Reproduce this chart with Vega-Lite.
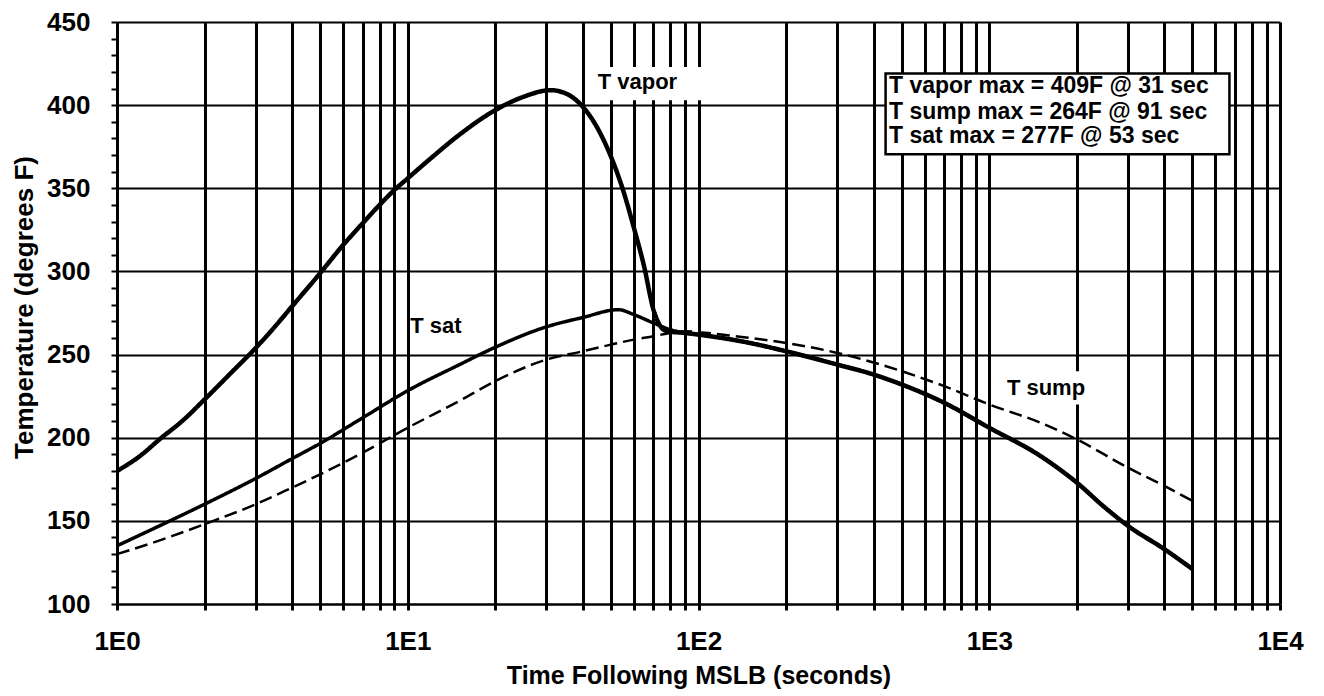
{
  "$schema": "https://vega.github.io/schema/vega-lite/v6.json",
  "width": 1163,
  "height": 582,
  "autosize": {"type": "none"},
  "padding": {"left": 117, "top": 22, "right": 44, "bottom": 92},
  "background": "white",
  "config": {"view": {"stroke": null}, "font": "Liberation Sans"},
  "datasets": {
    "curves": [
      {"series": "T vapor", "time": 1, "temp": 180},
      {"series": "T vapor", "time": 1.2, "temp": 189},
      {"series": "T vapor", "time": 1.4, "temp": 199},
      {"series": "T vapor", "time": 1.7, "temp": 211},
      {"series": "T vapor", "time": 2, "temp": 223},
      {"series": "T vapor", "time": 2.5, "temp": 240},
      {"series": "T vapor", "time": 3, "temp": 254},
      {"series": "T vapor", "time": 3.5, "temp": 267},
      {"series": "T vapor", "time": 4, "temp": 279},
      {"series": "T vapor", "time": 5, "temp": 299},
      {"series": "T vapor", "time": 6, "temp": 316},
      {"series": "T vapor", "time": 7, "temp": 329},
      {"series": "T vapor", "time": 8, "temp": 340},
      {"series": "T vapor", "time": 9, "temp": 349},
      {"series": "T vapor", "time": 10, "temp": 356},
      {"series": "T vapor", "time": 12, "temp": 368},
      {"series": "T vapor", "time": 15, "temp": 382},
      {"series": "T vapor", "time": 20, "temp": 397},
      {"series": "T vapor", "time": 25, "temp": 405},
      {"series": "T vapor", "time": 31, "temp": 409},
      {"series": "T vapor", "time": 35, "temp": 407},
      {"series": "T vapor", "time": 40, "temp": 399},
      {"series": "T vapor", "time": 45, "temp": 386},
      {"series": "T vapor", "time": 50, "temp": 369},
      {"series": "T vapor", "time": 55, "temp": 349},
      {"series": "T vapor", "time": 60, "temp": 326},
      {"series": "T vapor", "time": 65, "temp": 303},
      {"series": "T vapor", "time": 70, "temp": 277},
      {"series": "T vapor", "time": 74, "temp": 267},
      {"series": "T vapor", "time": 78, "temp": 264},
      {"series": "T vapor", "time": 90, "temp": 263},
      {"series": "T vapor", "time": 100, "temp": 262},
      {"series": "T vapor", "time": 150, "temp": 257},
      {"series": "T vapor", "time": 200, "temp": 252},
      {"series": "T vapor", "time": 300, "temp": 244},
      {"series": "T vapor", "time": 400, "temp": 238},
      {"series": "T vapor", "time": 500, "temp": 232},
      {"series": "T vapor", "time": 700, "temp": 221},
      {"series": "T vapor", "time": 1000, "temp": 206},
      {"series": "T vapor", "time": 1500, "temp": 189},
      {"series": "T vapor", "time": 2000, "temp": 173},
      {"series": "T vapor", "time": 2500, "temp": 158},
      {"series": "T vapor", "time": 3000, "temp": 147},
      {"series": "T vapor", "time": 4000, "temp": 133},
      {"series": "T vapor", "time": 5000, "temp": 121},
      {"series": "T sat", "time": 1, "temp": 135},
      {"series": "T sat", "time": 1.5, "temp": 149.5},
      {"series": "T sat", "time": 2, "temp": 160},
      {"series": "T sat", "time": 3, "temp": 175.5},
      {"series": "T sat", "time": 4, "temp": 187.4},
      {"series": "T sat", "time": 5, "temp": 196.6},
      {"series": "T sat", "time": 7, "temp": 212},
      {"series": "T sat", "time": 10, "temp": 228.3},
      {"series": "T sat", "time": 15, "temp": 243.8},
      {"series": "T sat", "time": 20, "temp": 254.4},
      {"series": "T sat", "time": 30, "temp": 266.7},
      {"series": "T sat", "time": 40, "temp": 272.3},
      {"series": "T sat", "time": 53, "temp": 277},
      {"series": "T sat", "time": 60, "temp": 274},
      {"series": "T sat", "time": 70, "temp": 269},
      {"series": "T sat", "time": 80, "temp": 265},
      {"series": "T sat", "time": 90, "temp": 263},
      {"series": "T sat", "time": 100, "temp": 262},
      {"series": "T sat", "time": 150, "temp": 257},
      {"series": "T sat", "time": 200, "temp": 252},
      {"series": "T sat", "time": 300, "temp": 244},
      {"series": "T sat", "time": 400, "temp": 238},
      {"series": "T sat", "time": 500, "temp": 232},
      {"series": "T sat", "time": 700, "temp": 221},
      {"series": "T sat", "time": 1000, "temp": 206},
      {"series": "T sat", "time": 1500, "temp": 189},
      {"series": "T sat", "time": 2000, "temp": 173},
      {"series": "T sat", "time": 2500, "temp": 158},
      {"series": "T sat", "time": 3000, "temp": 147},
      {"series": "T sat", "time": 4000, "temp": 133},
      {"series": "T sat", "time": 5000, "temp": 121},
      {"series": "T sump", "time": 1, "temp": 130},
      {"series": "T sump", "time": 1.5, "temp": 140},
      {"series": "T sump", "time": 2, "temp": 148},
      {"series": "T sump", "time": 3, "temp": 160},
      {"series": "T sump", "time": 4, "temp": 170},
      {"series": "T sump", "time": 5, "temp": 178},
      {"series": "T sump", "time": 7, "temp": 191},
      {"series": "T sump", "time": 10, "temp": 206},
      {"series": "T sump", "time": 15, "temp": 222},
      {"series": "T sump", "time": 20, "temp": 234},
      {"series": "T sump", "time": 30, "temp": 247},
      {"series": "T sump", "time": 40, "temp": 252},
      {"series": "T sump", "time": 50, "temp": 256},
      {"series": "T sump", "time": 60, "temp": 259},
      {"series": "T sump", "time": 70, "temp": 261},
      {"series": "T sump", "time": 80, "temp": 263},
      {"series": "T sump", "time": 91, "temp": 264},
      {"series": "T sump", "time": 100, "temp": 263.5},
      {"series": "T sump", "time": 150, "temp": 260},
      {"series": "T sump", "time": 200, "temp": 257},
      {"series": "T sump", "time": 300, "temp": 251},
      {"series": "T sump", "time": 500, "temp": 240},
      {"series": "T sump", "time": 700, "temp": 231},
      {"series": "T sump", "time": 1000, "temp": 220},
      {"series": "T sump", "time": 1500, "temp": 209},
      {"series": "T sump", "time": 2000, "temp": 199},
      {"series": "T sump", "time": 3000, "temp": 182},
      {"series": "T sump", "time": 4000, "temp": 171},
      {"series": "T sump", "time": 5000, "temp": 162}
    ],
    "bgs": [
      {"time": 43, "time2": 105, "temp": 403, "temp2": 423},
      {"time": 1100, "time2": 2200, "temp": 220, "temp2": 240}
    ],
    "labels": [
      {"time": 45, "temp": 414, "label": "T vapor"},
      {"time": 10.2, "temp": 267, "label": "T sat"},
      {"time": 1150, "temp": 230, "label": "T sump"}
    ],
    "box": [
      {"time": 440, "time2": 6700, "temp": 419, "temp2": 370.5}
    ],
    "boxtext": [
      {"time": 452, "temp": 411.5, "label": "T vapor max = 409F @ 31 sec"},
      {"time": 452, "temp": 396, "label": "T sump max = 264F @ 91 sec"},
      {"time": 452, "temp": 381.5, "label": "T sat max = 277F @ 53 sec"}
    ]
  },
  "encoding": {
    "x": {
      "field": "time",
      "type": "quantitative",
      "scale": {"type": "log", "domain": [1, 10000]},
      "axis": {
        "values": [1,2,3,4,5,6,7,8,9,10,20,30,40,50,60,70,80,90,100,200,300,400,500,600,700,800,900,1000,2000,3000,4000,5000,6000,7000,8000,9000,10000],
        "labelExpr": "datum.value === 1 ? '1E0' : datum.value === 10 ? '1E1' : datum.value === 100 ? '1E2' : datum.value === 1000 ? '1E3' : datum.value === 10000 ? '1E4' : ''",
        "grid": true,
        "gridColor": "black",
        "gridWidth": 3,
        "gridOpacity": 1,
        "domainColor": "black",
        "domainWidth": 2,
        "tickColor": "black",
        "tickWidth": 3,
        "tickSize": 6,
        "labelFont": "Liberation Sans",
        "labelFontSize": 26,
        "labelFontWeight": "bold",
        "labelColor": "black",
        "labelPadding": 18,
        "labelOverlap": false,
        "labelFlush": false,
        "labelBound": false,
        "title": "Time Following MSLB (seconds)",
        "titleFont": "Liberation Sans",
        "titleFontSize": 25,
        "titleFontWeight": "bold",
        "titleColor": "black",
        "titleY": 79,
        "titleBaseline": "alphabetic"
      }
    },
    "y": {
      "field": "temp",
      "type": "quantitative",
      "scale": {"domain": [100, 450], "zero": false, "nice": false},
      "axis": {
        "values": [100,110,120,130,140,150,160,170,180,190,200,210,220,230,240,250,260,270,280,290,300,310,320,330,340,350,360,370,380,390,400,410,420,430,440,450],
        "labelExpr": "datum.value % 50 === 0 ? datum.label : ''",
        "grid": true,
        "gridColor": "black",
        "gridWidth": 2,
        "gridOpacity": {"condition": {"test": "datum.value % 50 === 0", "value": 1}, "value": 0},
        "domainColor": "black",
        "domainWidth": 3,
        "tickColor": "black",
        "tickWidth": 2,
        "tickSize": 6,
        "labelFont": "Liberation Sans",
        "labelFontSize": 26,
        "labelFontWeight": "bold",
        "labelColor": "black",
        "labelPadding": 21,
        "labelOverlap": false,
        "labelFlush": false,
        "labelBound": false,
        "title": "Temperature (degrees F)",
        "titleFont": "Liberation Sans",
        "titleFontSize": 26,
        "titleFontWeight": "bold",
        "titleColor": "black",
        "titleAngle": 270,
        "titleAlign": "center",
        "titleBaseline": "middle",
        "titleX": -93,
        "titleY": 285
      }
    }
  },
  "layer": [
    {
      "data": {"name": "bgs"},
      "mark": {"type": "rect", "fill": "white", "strokeWidth": 0},
      "encoding": {"x2": {"field": "time2"}, "y2": {"field": "temp2"}}
    },
    {
      "data": {"name": "curves"},
      "mark": {"type": "line", "color": "black", "interpolate": "monotone"},
      "encoding": {
        "detail": {"field": "series", "type": "nominal"},
        "strokeWidth": {"field": "series", "type": "nominal", "scale": {"domain": ["T vapor", "T sat", "T sump"], "range": [4.5, 2.5, 2.5]}, "legend": null},
        "strokeDash": {"field": "series", "type": "nominal", "scale": {"domain": ["T vapor", "T sat", "T sump"], "range": [[1, 0], [1, 0], [13, 6]]}, "legend": null}
      }
    },
    {
      "data": {"name": "labels"},
      "mark": {"type": "text", "align": "left", "baseline": "middle", "font": "Liberation Sans", "fontSize": 22, "fontWeight": "bold", "color": "black"},
      "encoding": {"text": {"field": "label", "type": "nominal"}}
    },
    {
      "data": {"name": "box"},
      "mark": {"type": "rect", "fill": "white", "stroke": "black", "strokeWidth": 2.5},
      "encoding": {"x2": {"field": "time2"}, "y2": {"field": "temp2"}}
    },
    {
      "data": {"name": "boxtext"},
      "mark": {"type": "text", "align": "left", "baseline": "middle", "font": "Liberation Sans", "fontSize": 23, "fontWeight": "bold", "color": "black"},
      "encoding": {"text": {"field": "label", "type": "nominal"}}
    }
  ]
}
